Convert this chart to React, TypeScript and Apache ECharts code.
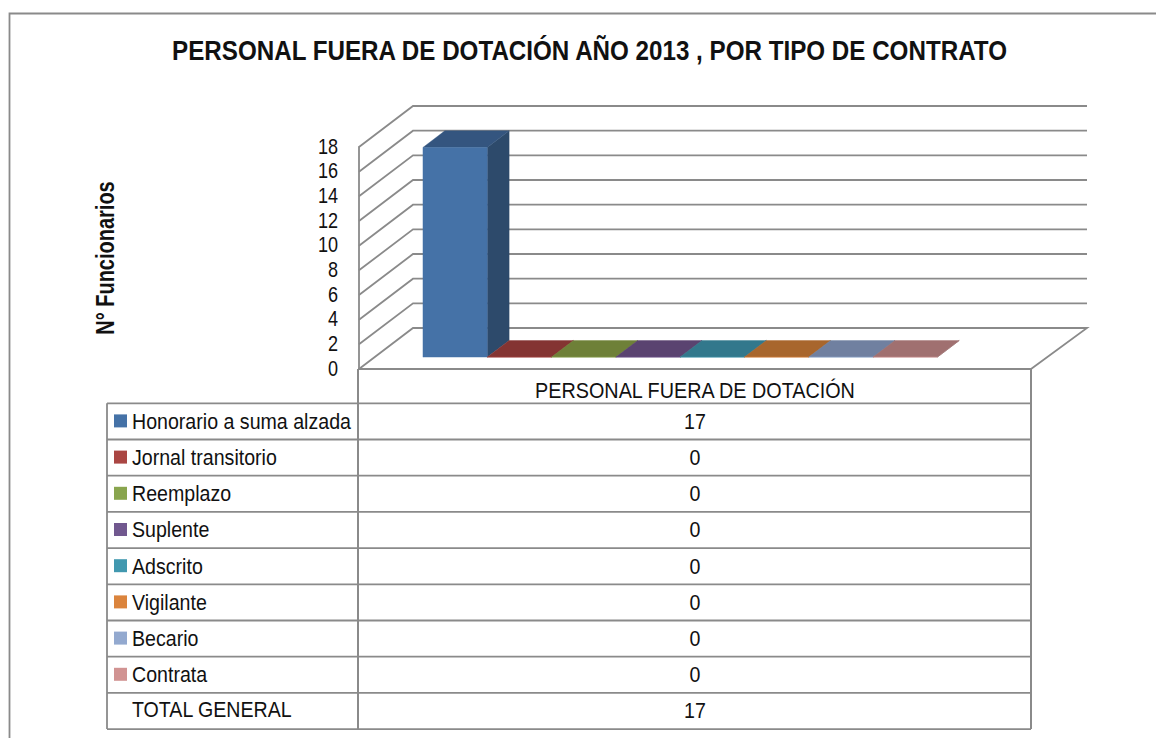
import React, { useEffect, useRef } from "react";
import * as echarts from "echarts";

const TITLE = "PERSONAL FUERA DE DOTACIÓN AÑO 2013 , POR TIPO DE CONTRATO";
const Y_TITLE = "N° Funcionarios";
const CATEGORY = ["PERSONAL FUERA DE DOTACIÓN"];
const CONTRACTS = ["Honorario a suma alzada", "Jornal transitorio", "Reemplazo", "Suplente", "Adscrito", "Vigilante", "Becario", "Contrata"];
const VALUES = [17, 0, 0, 0, 0, 0, 0, 0];
const COLORS = ["#4572A7", "#AA4643", "#89A54E", "#71588F", "#4198AF", "#DB843D", "#93A9CF", "#D19392"];
const TOP_COLORS = ["#34557F", "#843432", "#6E8038", "#5A4370", "#32788C", "#A8662D", "#7080A0", "#A07070"];
const SIDE_COLORS = ["#2D4A6B", "#6F2C2A", "#5C6B2F", "#4B385E", "#2A6475", "#8C5526", "#5E6B86", "#865E5E"];
const TOTAL_LABEL = "TOTAL GENERAL";
const TOTAL = [17];
const Y_TICKS = [0, 2, 4, 6, 8, 10, 12, 14, 16, 18];

const GRAY = "#8a8a8a";
const TEXT = "#111111";
const FONT = "'Liberation Sans', Arial, sans-serif";
const DX = 54;
const DX_R = 56;
const DY = 41;
const L = 359;
const R = 1031;
const TBL_L = 107;
const ROW0 = 403.3;
const ROW_H = 36.2;
const BASE_D = 0.29;
const BAR_D = 0.405;
const BAR_OFF = 48.3 / 672;
const BAR_W = 64.3 / 672;

const line = (x1: number, y1: number, x2: number, y2: number, w = 1.8) => ({
  type: "line",
  silent: true,
  shape: { x1, y1, x2, y2 },
  style: { stroke: GRAY, lineWidth: w },
});
const label = (x: number, y: number, text: string, align: string, scaleX = 0.891) => ({
  type: "text",
  silent: true,
  x,
  y,
  scaleX,
  style: { text, x: 0, y: 0, fill: TEXT, fontFamily: FONT, fontSize: 22, align, verticalAlign: "middle" },
});

function tableGraphic() {
  const out: any[] = [];
  out.push({
    type: "polyline",
    silent: true,
    shape: { points: [[9.5, 738], [9.5, 13.5], [1156, 13.5]] },
    style: { stroke: GRAY, lineWidth: 1.8, fill: "none" },
  });
  out.push({
    type: "text",
    silent: true,
    x: 589.5,
    y: 50,
    scaleX: 0.864,
    style: { text: TITLE, x: 0, y: 0, fill: TEXT, fontFamily: FONT, fontWeight: "bold", fontSize: 28, align: "center", verticalAlign: "middle" },
  });
  out.push({
    type: "text",
    silent: true,
    x: 105.5,
    y: 258,
    rotation: Math.PI / 2,
    scaleX: 0.8,
    style: { text: Y_TITLE, x: 0, y: 0, fill: TEXT, fontFamily: FONT, fontWeight: "bold", fontSize: 25, align: "center", verticalAlign: "middle" },
  });
  const rows = CONTRACTS.length + 1;
  for (let i = 0; i <= rows; i++) {
    const y = ROW0 + i * ROW_H;
    out.push(line(TBL_L, y, R, y));
  }
  out.push(line(TBL_L, ROW0, TBL_L, ROW0 + rows * ROW_H));
  out.push(line(L - 1, 369, L - 1, ROW0 + rows * ROW_H, 2));
  out.push(line(R, 369, R, ROW0 + rows * ROW_H, 2));
  const center = (L + R) / 2;
  out.push(label(center, 390, CATEGORY[0], "center", 0.9));
  [...VALUES, ...TOTAL].forEach((v, i) => {
    out.push(label(center, ROW0 + (i + 0.5) * ROW_H - 0.5, String(v), "center"));
  });
  CONTRACTS.forEach((name, i) => {
    const yc = ROW0 + (i + 0.5) * ROW_H;
    out.push({
      type: "rect",
      silent: true,
      shape: { x: 114, y: yc - 7, width: 13, height: 13 },
      style: { fill: COLORS[i] },
    });
    out.push(label(132, yc - 0.5, name, "left"));
  });
  out.push(label(132, ROW0 + (rows - 0.5) * ROW_H - 1.5, TOTAL_LABEL, "left"));
  return out;
}

function wallItem(params: any, api: any) {
  const c = params.coordSys;
  const v = api.value(1);
  const y = api.coord([0, v])[1];
  const points =
    v === 0
      ? [[c.x + c.width, y], [c.x + c.width + DX_R, y - DY], [c.x + DX, y - DY], [c.x, y]]
      : [[c.x, y], [c.x + DX, y - DY], [c.x + c.width + DX_R, y - DY]];
  return {
    type: "group",
    children: [
      {
        type: "polyline",
        shape: { points },
        style: { stroke: GRAY, lineWidth: 1.8, fill: "none" },
      },
      {
        type: "text",
        x: c.x - 21,
        y: y - 1,
        scaleX: 0.81,
        style: { text: String(v), x: 0, y: 0, fill: TEXT, fontFamily: FONT, fontSize: 22.3, align: "right", verticalAlign: "middle" },
      },
    ],
  };
}

const barItem = (i: number) => (params: any, api: any) => {
  const c = params.coordSys;
  const w = api.size([1, 0])[0];
  const value = api.value(1);
  const px = (p: number) => c.x + p * w;
  const y0 = api.coord([0, 0])[1] - BASE_D * DY;
  const yv = api.coord([0, value])[1] - BASE_D * DY;
  const x0 = px(BAR_OFF + i * BAR_W) + BASE_D * DX;
  const x1 = x0 + BAR_W * w;
  const bx = BAR_D * DX;
  const by = BAR_D * DY;
  const poly = (points: number[][], fill: string) => ({
    type: "polygon",
    shape: { points },
    style: { fill, stroke: fill, lineWidth: 0.4 },
  });
  return {
    type: "group",
    children: [
      poly([[x1, y0], [x1 + bx, y0 - by], [x1 + bx, yv - by], [x1, yv]], SIDE_COLORS[i]),
      poly([[x0, yv], [x1, yv], [x1 + bx, yv - by], [x0 + bx, yv - by]], TOP_COLORS[i]),
      poly([[x0, y0], [x1, y0], [x1, yv], [x0, yv]], COLORS[i]),
    ],
  };
};

export default function App() {
  const ref = useRef<HTMLDivElement>(null);
  useEffect(() => {
    const chart = echarts.init(ref.current!, undefined, { renderer: "svg" });
    chart.setOption({
      animation: false,
      backgroundColor: "#ffffff",
      grid: { left: L, top: 147, width: R - L, height: 222 },
      xAxis: {
        type: "category",
        data: CATEGORY,
        axisTick: { show: false },
        axisLine: { show: true, lineStyle: { color: GRAY, width: 1.8 } },
        axisLabel: { show: false },
      },
      yAxis: {
        type: "value",
        min: 0,
        max: 18,
        interval: 2,
        splitLine: { show: false },
        axisTick: { show: false },
        axisLine: { show: true, lineStyle: { color: GRAY, width: 1.8 } },
        axisLabel: { show: false },
      },
      graphic: { elements: tableGraphic() },
      series: [
        {
          type: "custom",
          name: "Paredes",
          silent: true,
          clip: false,
          renderItem: wallItem,
          encode: { x: 0, y: 1 },
          data: Y_TICKS.map((t) => [0, t]),
          z: 1,
        },
        ...CONTRACTS.map((name, i) => ({
          type: "custom",
          name,
          clip: false,
          itemStyle: { color: COLORS[i] },
          renderItem: barItem(i),
          encode: { x: 0, y: 1 },
          data: [[0, VALUES[i]]],
          z: 2,
        })),
      ],
    });
    return () => chart.dispose();
  }, []);
  return <div ref={ref} style={{ position: "fixed", left: 0, top: 0, width: 1156, height: 738 }} />;
}
